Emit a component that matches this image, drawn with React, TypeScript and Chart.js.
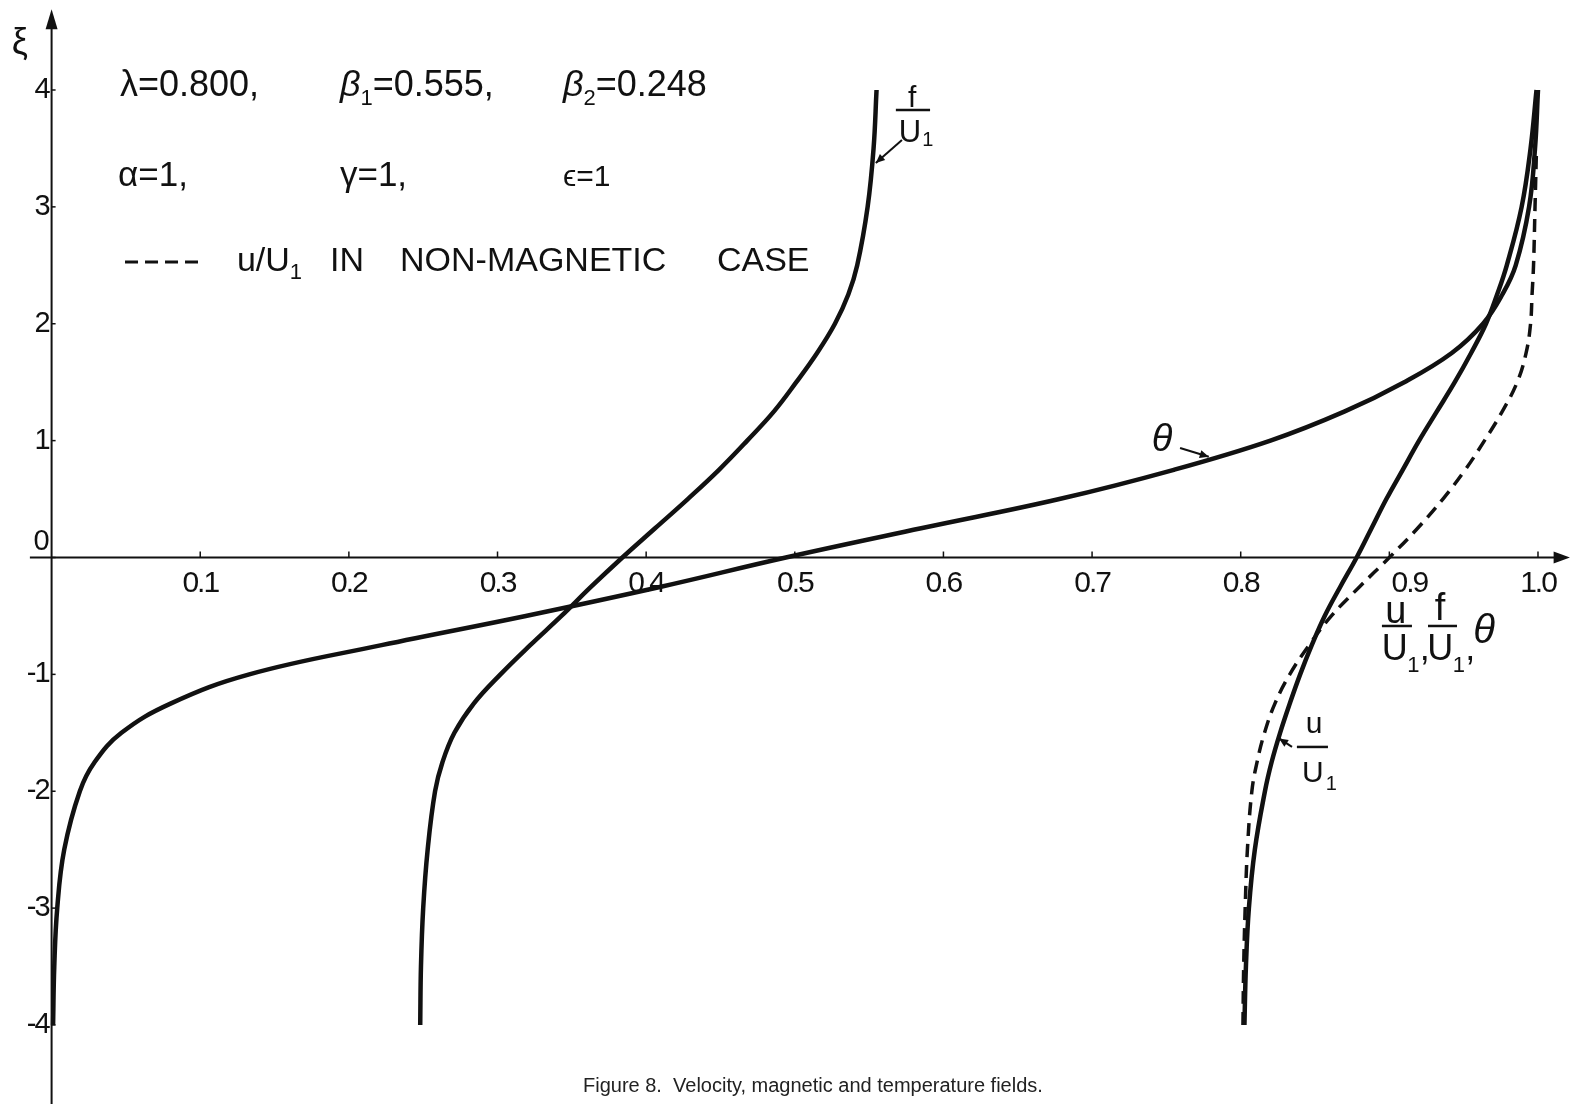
import React, { useEffect, useRef } from "react";
import { Chart, registerables } from "chart.js";

Chart.register(...registerables);

// ξ levels shared by all curves
const XI = [-4, -3.5, -3, -2.5, -2, -1.75, -1.5, -1.25, -1, -0.75, -0.5, -0.25, 0, 0.25, 0.5, 0.75, 1, 1.25, 1.5, 1.75, 2, 2.25, 2.5, 3, 3.5, 4];

// abscissa values of each curve at the ξ levels above
const THETA = [0.001, 0.0018, 0.0038, 0.0085, 0.019, 0.029, 0.047, 0.08, 0.133, 0.222, 0.319, 0.41, 0.494, 0.585, 0.678, 0.755, 0.82, 0.87, 0.91, 0.942, 0.963, 0.976, 0.985, 0.994, 0.998, 1.0];
const F_U1 = [0.248, 0.2485, 0.25, 0.253, 0.258, 0.263, 0.271, 0.284, 0.302, 0.322, 0.343, 0.363, 0.384, 0.406, 0.428, 0.449, 0.468, 0.486, 0.501, 0.515, 0.527, 0.536, 0.542, 0.549, 0.553, 0.555];
const U_U1 = [0.8025, 0.8035, 0.8055, 0.8095, 0.8163, 0.8208, 0.8265, 0.833, 0.84, 0.8478, 0.8565, 0.867, 0.878, 0.888, 0.898, 0.909, 0.92, 0.932, 0.944, 0.955, 0.965, 0.9725, 0.979, 0.989, 0.995, 0.999];
const U_U1_NONMAG: (number | null)[] = [0.8015, 0.802, 0.803, 0.8045, 0.8075, 0.811, 0.816, 0.823, 0.833, 0.846, 0.861, 0.88, 0.9, 0.919, 0.936, 0.951, 0.964, 0.976, 0.986, 0.992, 0.995, 0.996, 0.997, 0.998, 0.999, null];

const X_TICKS = [0.1, 0.2, 0.3, 0.4, 0.5, 0.6, 0.7, 0.8, 0.9, 1.0];
const X_TICK_LABELS = ["0.1", "0.2", "0.3", "0.4", "0.5", "0.6", "0.7", "0.8", "0.9", "1.0"];
const Y_TICKS = [4, 3, 2, 1, 0, -1, -2, -3, -4];
const Y_TICK_LABELS = ["4", "3", "2", "1", "0", "-1", "-2", "-3", "-4"];

const FONT = '"Liberation Sans", Arial, sans-serif';
const INK = "#111";

function toPoints(vals: (number | null)[]) {
  const pts: { x: number; y: number }[] = [];
  XI.forEach((xi, i) => {
    const v = vals[i];
    if (v !== null && v !== undefined) pts.push({ x: v, y: xi });
  });
  return pts;
}

const figurePlugin = {
  id: "figurePlugin",
  beforeDatasetsDraw(chart: any) {
    const { ctx } = chart;
    const sx = chart.scales.x;
    const sy = chart.scales.y;
    const X = (v: number) => sx.getPixelForValue(v);
    const Y = (v: number) => sy.getPixelForValue(v);
    const x0 = X(0);
    const y0 = Y(0);
    ctx.save();
    ctx.strokeStyle = INK;
    ctx.fillStyle = INK;
    ctx.lineWidth = 2;
    // vertical axis
    ctx.beginPath();
    ctx.moveTo(x0, chart.height);
    ctx.lineTo(x0, Y(4.55));
    ctx.stroke();
    ctx.beginPath();
    ctx.moveTo(x0, Y(4.69));
    ctx.lineTo(x0 - 6, Y(4.52));
    ctx.lineTo(x0 + 6, Y(4.52));
    ctx.closePath();
    ctx.fill();
    // horizontal axis
    ctx.beginPath();
    ctx.moveTo(X(-0.0146), y0);
    ctx.lineTo(X(1.012), y0);
    ctx.stroke();
    ctx.beginPath();
    ctx.moveTo(X(1.0215), y0);
    ctx.lineTo(X(1.0105), y0 - 6);
    ctx.lineTo(X(1.0105), y0 + 6);
    ctx.closePath();
    ctx.fill();
    // ticks
    ctx.lineWidth = 1.5;
    X_TICKS.forEach((t) => {
      ctx.beginPath();
      ctx.moveTo(X(t), y0);
      ctx.lineTo(X(t), y0 - 6);
      ctx.stroke();
    });
    Y_TICKS.forEach((t) => {
      ctx.beginPath();
      ctx.moveTo(x0, Y(t));
      ctx.lineTo(x0 + 4, Y(t));
      ctx.stroke();
    });
    // tick labels
    ctx.font = `30px ${FONT}`;
    try { (ctx as any).letterSpacing = "-2px"; } catch (e) {}
    ctx.textAlign = "center";
    ctx.textBaseline = "top";
    X_TICKS.forEach((t, i) => {
      const shift = t === 0.9 ? 20 : 0;
      ctx.fillText(X_TICK_LABELS[i], X(t) + shift, y0 + 11);
    });
    ctx.font = `29px ${FONT}`;
    ctx.textAlign = "right";
    Y_TICKS.forEach((t, i) => {
      if (t === 0) {
        ctx.textBaseline = "bottom";
        ctx.fillText(Y_TICK_LABELS[i], x0 - 4, y0 - 1);
      } else {
        ctx.textBaseline = "middle";
        ctx.fillText(Y_TICK_LABELS[i], x0 - 3, Y(t));
      }
    });
    try { (ctx as any).letterSpacing = "0px"; } catch (e) {}
    ctx.restore();
  },
  afterDatasetsDraw(chart: any) {
    const { ctx } = chart;
    const sx = chart.scales.x;
    const sy = chart.scales.y;
    const X = (v: number) => sx.getPixelForValue(v);
    const Y = (v: number) => sy.getPixelForValue(v);
    ctx.save();
    ctx.fillStyle = INK;
    ctx.strokeStyle = INK;

    const txt = (s: string, xv: number, yv: number, font: string, align = "left", base = "alphabetic") => {
      ctx.font = font;
      ctx.textAlign = align;
      ctx.textBaseline = base;
      ctx.fillText(s, X(xv), Y(yv));
    };
    const seq = (parts: { s: string; font: string; dy?: number }[], xv: number, yv: number) => {
      let px = X(xv);
      const py = Y(yv);
      ctx.textAlign = "left";
      ctx.textBaseline = "alphabetic";
      parts.forEach((p) => {
        ctx.font = p.font;
        ctx.fillText(p.s, px, py + (p.dy || 0));
        px += ctx.measureText(p.s).width;
      });
    };
    const bar = (x1: number, x2: number, yv: number) => {
      ctx.lineWidth = 2.5;
      ctx.beginPath();
      ctx.moveTo(X(x1), Y(yv));
      ctx.lineTo(X(x2), Y(yv));
      ctx.stroke();
    };
    const pointer = (x1: number, y1: number, x2: number, y2: number) => {
      const ax = X(x1), ay = Y(y1), bx = X(x2), by = Y(y2);
      ctx.lineWidth = 2;
      ctx.beginPath();
      ctx.moveTo(ax, ay);
      ctx.lineTo(bx, by);
      ctx.stroke();
      const ang = Math.atan2(by - ay, bx - ax);
      const L = 9, W = 4;
      ctx.beginPath();
      ctx.moveTo(bx, by);
      ctx.lineTo(bx - L * Math.cos(ang) + W * Math.sin(ang), by - L * Math.sin(ang) - W * Math.cos(ang));
      ctx.lineTo(bx - L * Math.cos(ang) - W * Math.sin(ang), by - L * Math.sin(ang) + W * Math.cos(ang));
      ctx.closePath();
      ctx.fill();
    };

    const big = `36px ${FONT}`;
    const sub = `22px ${FONT}`;
    // axis symbol
    txt("ξ", -0.0213, 4.39, `36px ${FONT}`, "center", "middle");
    // parameter rows
    txt("λ=0.800,", 0.046, 3.949, big);
    seq([{ s: "β", font: `italic 36px ${FONT}` }, { s: "1", font: sub, dy: 9 }, { s: "=0.555,", font: big }], 0.194, 3.949);
    seq([{ s: "β", font: `italic 36px ${FONT}` }, { s: "2", font: sub, dy: 9 }, { s: "=0.248", font: big }], 0.344, 3.949);
    txt("α=1,", 0.0447, 3.179, `35px ${FONT}`);
    txt("γ=1,", 0.194, 3.179, `35px ${FONT}`);
    txt("ϵ=1", 0.344, 3.179, `30px ${FONT}`);
    // legend row
    ctx.save();
    ctx.lineWidth = 3;
    ctx.setLineDash([13, 7]);
    ctx.beginPath();
    ctx.moveTo(X(0.0494), Y(2.528));
    ctx.lineTo(X(0.0985), Y(2.528));
    ctx.stroke();
    ctx.restore();
    const mid = `34px ${FONT}`;
    seq([{ s: "u/U", font: mid }, { s: "1", font: sub, dy: 8 }], 0.1247, 2.451);
    txt("IN", 0.1873, 2.451, mid);
    txt("NON-MAGNETIC", 0.2344, 2.451, mid);
    txt("CASE", 0.4476, 2.451, mid);

    // f/U1 label near top
    txt("f", 0.5789, 3.854, `30px ${FONT}`, "center");
    bar(0.568, 0.591, 3.829);
    txt("U", 0.5775, 3.555, `31px ${FONT}`, "center");
    txt("1", 0.5858, 3.52, `20px ${FONT}`);
    pointer(0.5721, 3.572, 0.5545, 3.375);

    // theta label
    txt("θ", 0.7471, 1.0, `italic 38px ${FONT}`, "center", "middle");
    pointer(0.7592, 0.937, 0.7785, 0.862);

    // u/U1 label near bottom
    txt("u", 0.8493, -1.501, `30px ${FONT}`, "center");
    bar(0.8378, 0.8587, -1.621);
    txt("U", 0.8486, -1.921, `30px ${FONT}`, "center");
    txt("1", 0.8572, -1.99, `20px ${FONT}`);
    pointer(0.8345, -1.621, 0.8258, -1.548);

    // horizontal axis title: u/U1, f/U1, θ
    const ax = `36px ${FONT}`;
    const axSub = `22px ${FONT}`;
    txt("u", 0.9044, -0.56, `38px ${FONT}`, "center");
    bar(0.895, 0.9152, -0.586);
    txt("U", 0.9037, -0.877, ax, "center");
    txt("1", 0.9121, -0.98, axSub);
    txt(",", 0.9205, -0.877, ax);
    txt("f", 0.9341, -0.535, `38px ${FONT}`, "center");
    bar(0.926, 0.9455, -0.586);
    txt("U", 0.9343, -0.877, ax, "center");
    txt("1", 0.9427, -0.98, axSub);
    txt(",", 0.9511, -0.877, ax);
    txt("θ", 0.9565, -0.73, `italic 40px ${FONT}`);

    // caption
    ctx.fillStyle = "#222";
    txt("Figure 8.  Velocity, magnetic and temperature fields.", 0.5122, -4.573, `20px ${FONT}`, "center");
    ctx.restore();
  },
};

export default function App() {
  const canvasRef = useRef<HTMLCanvasElement | null>(null);

  useEffect(() => {
    const canvas = canvasRef.current;
    if (!canvas) return;
    const solid = { borderColor: INK, borderWidth: 4.5, pointRadius: 0, showLine: true, tension: 0.4, fill: false };
    const chart = new Chart(canvas, {
      type: "scatter",
      data: {
        datasets: [
          { label: "θ", data: toPoints(THETA), ...solid },
          { label: "f/U1", data: toPoints(F_U1), ...solid },
          { label: "u/U1", data: toPoints(U_U1), ...solid },
          { label: "u/U1 non-magnetic", data: toPoints(U_U1_NONMAG), ...solid, borderWidth: 3.5, borderDash: [13, 8] },
        ],
      } as any,
      options: {
        animation: false,
        responsive: false,
        devicePixelRatio: 1,
        layout: { padding: 0 },
        plugins: { legend: { display: false }, tooltip: { enabled: false }, title: { display: false } },
        scales: {
          x: { type: "linear", min: -0.03471, max: 1.02355, display: false },
          y: { type: "linear", min: -4.676, max: 4.77, display: false },
        },
      } as any,
      plugins: [figurePlugin as any],
    });
    return () => chart.destroy();
  }, []);

  return (
    <div style={{ position: "absolute", left: 0, top: 0, width: 1573, height: 1104, background: "#fff" }}>
      <canvas ref={canvasRef} width={1573} height={1104} style={{ display: "block", width: 1573, height: 1104 }} />
    </div>
  );
}
